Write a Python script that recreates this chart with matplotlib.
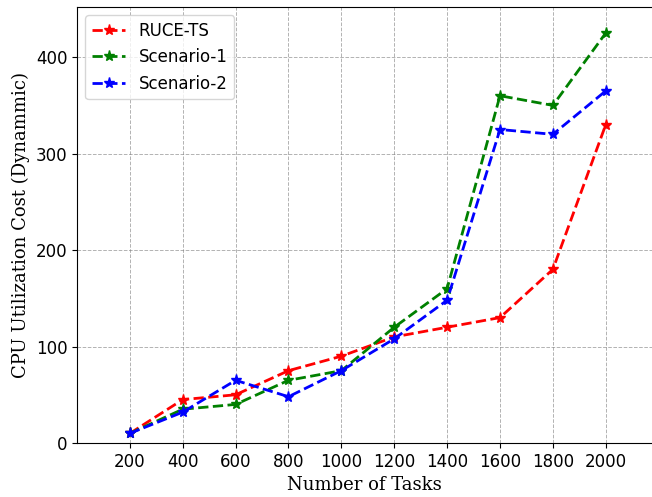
import matplotlib.pyplot as plt

# data
tasks = [200, 400, 600, 800, 1000, 1200, 1400, 1600, 1800, 2000]
ruce_ts = [10, 45, 50, 75, 90, 110, 120, 130, 180, 330]
scenario_1 = [10, 35, 40, 65, 75, 120, 160, 360, 350, 425]
scenario_2 = [10, 32, 65, 48, 75, 108, 148, 325, 320, 365]

fig = plt.figure(figsize=(6.52, 4.97), dpi=100)
ax = fig.add_axes([77 / 652, 54 / 497, 1 - 77 / 652, 436 / 497])

ax.plot(tasks, ruce_ts, marker='*', markersize=8, linestyle='--', linewidth=2,
        color='red', label='RUCE-TS')
ax.plot(tasks, scenario_1, marker='*', markersize=8, linestyle='--', linewidth=2,
        color='green', label='Scenario-1')
ax.plot(tasks, scenario_2, marker='*', markersize=8, linestyle='--', linewidth=2,
        color='blue', label='Scenario-2')

ax.set_xlim(0, 2175)
ax.set_ylim(0, 452)
ax.set_xticks(tasks)
ax.set_yticks([0, 100, 200, 300, 400])
ax.tick_params(labelsize=12)
ax.spines['right'].set_visible(False)

ax.set_xlabel('Number of Tasks', fontsize=13, family='DejaVu Serif')
ax.set_ylabel('CPU Utilization Cost (Dynammic)', fontsize=13, family='DejaVu Serif')
ax.grid(True, linestyle='--', linewidth=0.7, color='gray', alpha=0.6)
ax.legend(fontsize=12, loc='upper left')

fig.savefig('out.png', dpi=100)
